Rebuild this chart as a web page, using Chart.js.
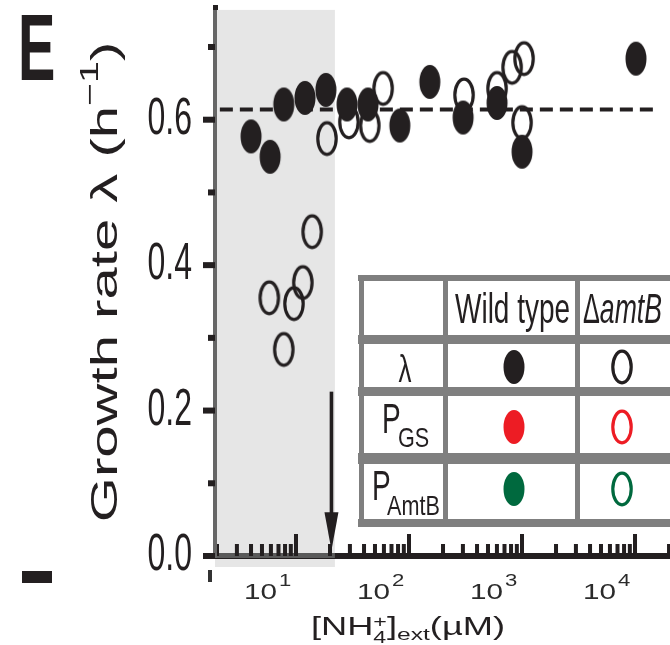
<!DOCTYPE html>
<html><head><meta charset="utf-8">
<script src="https://cdn.jsdelivr.net/npm/chart.js@4.4.1/dist/chart.umd.min.js"></script>
<style>html,body{margin:0;padding:0;background:#fff;overflow:hidden;}#wrap{width:670px;height:645px;position:relative;}</style>
</head><body><div id="wrap"><canvas id="c"></canvas></div>
<script>
// ---------- data ----------
const nh4WildType    = [4.0, 5.9, 7.8, 12.0, 18.4, 28.3, 43.4, 83, 153, 301, 601, 1000, 10200];
const lambdaWildType = [0.577, 0.549, 0.621, 0.630, 0.641, 0.621, 0.621, 0.592, 0.652, 0.603, 0.623, 0.556, 0.684];
const nh4AmtB        = [5.8, 7.8, 9.6, 11.5, 13.9, 18.8, 29.4, 45, 59, 307, 601, 817, 1042, 1000];
const lambdaAmtB     = [0.355, 0.284, 0.347, 0.376, 0.446, 0.574, 0.597, 0.592, 0.643, 0.634, 0.643, 0.672, 0.684, 0.596];
const meanLambda = 0.614;
const meanLineRange = [2.12, 16000];
const shadedRange = [1.92, 22.1];      // low-NH4 shaded band (µM)
const shadedTop = 0.751;
const arrowX = 20.6;                   // µM
const arrowRange = [0.226, 0.008];
const xMajorExponents = [1, 2, 3, 4];
const xMinorMultipliers = [2, 3, 4, 5, 6, 7, 8, 9];
const yTickLabels = ['0.0', '0.2', '0.4', '0.6'];
const yMajorTicks = [0, 0.2, 0.4, 0.6];
const yMinorTicks = [0.1, 0.3, 0.5, 0.7];
const xRange = [1.92, 20400];
const yRange = [0, 0.755];

const FONT = '"Liberation Sans", Arial, Helvetica, sans-serif';
const INK = '#231f20';

function makeMarker(fill, stroke) {
  const c = document.createElement('canvas'); c.width = 24; c.height = 38;
  const g = c.getContext('2d');
  g.beginPath();
  if (fill) { g.ellipse(12, 19, 10.5, 17, 0, 0, 2 * Math.PI); g.fillStyle = fill; g.fill(); }
  else { g.ellipse(12, 19, 9.2, 15.8, 0, 0, 2 * Math.PI); g.lineWidth = 3.2; g.strokeStyle = stroke; g.stroke(); }
  return c;
}
const mFilledBlack = makeMarker(INK), mOpenBlack = makeMarker(null, INK);
const mFilledRed = makeMarker('#ed1c24'), mOpenRed = makeMarker(null, '#ed1c24');
const mFilledGreen = makeMarker('#00693e'), mOpenGreen = makeMarker(null, '#00693e');

function txt(ctx, s, x, y, size, o = {}) {
  ctx.save();
  ctx.translate(x, y);
  ctx.scale(o.sx || 1, o.sy || 1);
  ctx.font = `${o.style || 'normal'} ${o.weight || 'normal'} ${size}px ${FONT}`;
  ctx.textAlign = o.align || 'left';
  ctx.textBaseline = 'alphabetic';
  ctx.fillStyle = o.color || INK;
  ctx.fillText(s, 0, 0);
  ctx.restore();
}
function w(ctx, s, size, o = {}) {
  ctx.save(); ctx.font = `${o.style || 'normal'} ${o.weight || 'normal'} ${size}px ${FONT}`;
  const m = ctx.measureText(s).width; ctx.restore(); return m;
}

const decor = {
  id: 'decor',
  beforeDatasetsDraw(chart) {
    const { ctx, chartArea: a } = chart;
    const xs = chart.scales.x, ys = chart.scales.y;
    ctx.save();
    // shaded band
    const sx0 = xs.getPixelForValue(shadedRange[0]), sx1 = xs.getPixelForValue(shadedRange[1]);
    const sy0 = ys.getPixelForValue(shadedTop), sy1 = ys.getPixelForValue(0) + 11;
    ctx.fillStyle = '#e6e6e6';
    ctx.fillRect(sx0, sy0, sx1 - sx0, sy1 - sy0);
    // x axis line
    const y0 = ys.getPixelForValue(0);
    ctx.fillStyle = INK; ctx.fillRect(a.left, y0 - 3, a.right - a.left, 6);
    ctx.fillStyle = '#5a5a5a'; ctx.fillRect(a.left, y0 - 3, sx1 - a.left, 5);
    // x ticks (pointing inward)
    ctx.fillStyle = INK;
    for (let e = 0; e <= 4; e++) {
      const major = Math.pow(10, e);
      if (major >= xRange[0] && major <= xRange[1]) {
        const px = xs.getPixelForValue(major); ctx.fillRect(px - 2, y0 - 22, 4, 22);
      }
      xMinorMultipliers.forEach(m => {
        const v = m * major;
        if (v >= xRange[0] && v <= xRange[1]) {
          const px = xs.getPixelForValue(v); ctx.fillRect(px - 2, y0 - 12, 4, 12);
        }
      });
    }
    ctx.fillStyle = '#333'; ctx.fillRect(a.left - 7, y0 + 14, 4, 12);
    // y axis line
    ctx.fillStyle = '#666';
    ctx.fillRect(a.left - 2, a.top, 4, y0 - a.top + 2);
    ctx.fillStyle = INK;
    ctx.fillRect(a.left - 2, a.top - 2, 5, 5);
    yMajorTicks.forEach(v => { const py = ys.getPixelForValue(v); ctx.fillRect(a.left - 12, py - 3, 12, 6); });
    yMinorTicks.forEach(v => { const py = ys.getPixelForValue(v); ctx.fillRect(a.left - 7, py - 3, 7, 6); });
    // y tick labels
    yMajorTicks.forEach((v, i) => {
      const py = ys.getPixelForValue(v);
      txt(ctx, yTickLabels[i], 192, py + 14, 32, { align: 'right', sy: 1.6 });
    });
    // x tick labels 10^n
    xMajorExponents.forEach(e => {
      const px = xs.getPixelForValue(Math.pow(10, e));
      const left = px - 52;
      txt(ctx, '10', left, 599, 22, { sx: 1.35, color: '#2b2b2b' });
      const bw = w(ctx, '10', 22) * 1.35;
      txt(ctx, String(e), left + bw + 2, 586, 17, { sx: 1.3, color: '#2b2b2b' });
    });
    ctx.restore();
  },
  afterDatasetsDraw(chart) {
    const { ctx } = chart;
    const xs = chart.scales.x, ys = chart.scales.y;
    ctx.save();
    // arrow
    const ax = xs.getPixelForValue(arrowX);
    const ay0 = ys.getPixelForValue(arrowRange[0]), ay1 = ys.getPixelForValue(arrowRange[1]);
    ctx.fillStyle = INK;
    ctx.fillRect(ax - 1.8, ay0, 3.6, ay1 - ay0 - 30);
    ctx.beginPath(); ctx.moveTo(ax - 7, ay1 - 38); ctx.lineTo(ax + 7, ay1 - 38); ctx.lineTo(ax, ay1); ctx.closePath(); ctx.fill();

    // legend table
    ctx.fillStyle = '#fff'; ctx.fillRect(360, 277, 320, 248);
    ctx.fillStyle = '#7f7f7f';
    ctx.fillRect(358, 275, 322, 6);
    ctx.fillRect(358, 335, 322, 9);
    ctx.fillRect(358, 387, 322, 9);
    ctx.fillRect(358, 453, 322, 11);
    ctx.fillRect(358, 519, 322, 8);
    ctx.fillRect(359, 275, 5, 252);
    ctx.fillRect(443, 275, 5, 252);
    ctx.fillRect(575, 275, 5, 252);
    txt(ctx, 'Wild type', 455, 323, 28, { sy: 1.55 });
    txt(ctx, 'Δ', 583, 323, 28, { sy: 1.55, sx: 0.9 });
    txt(ctx, 'amtB', 583 + w(ctx, 'Δ', 28) * 0.9, 323, 28, { sy: 1.55, sx: 0.95, style: 'italic' });
    txt(ctx, 'λ', 405, 382, 26, { sy: 1.5, align: 'center' });
    txt(ctx, 'P', 382, 433, 28, { sy: 1.55 });
    txt(ctx, 'GS', 398, 447, 18, { sy: 1.55, sx: 1.2 });
    txt(ctx, 'P', 372, 500, 28, { sy: 1.55 });
    txt(ctx, 'AmtB', 387, 515, 18, { sy: 1.55, sx: 1.2 });
    const put = (m, x, y) => ctx.drawImage(m, x - m.width / 2, y - m.height / 2);
    put(mFilledBlack, 514, 367); put(mOpenBlack, 622, 367);
    put(mFilledRed, 514, 427); put(mOpenRed, 622, 427);
    put(mFilledGreen, 514, 489); put(mOpenGreen, 622, 489);

    // panel letter and stray mark
    txt(ctx, 'E', 18, 80, 56, { weight: 'bold', sy: 1.7 });
    ctx.fillStyle = INK; ctx.fillRect(22, 571, 30, 12);

    // y-axis title (rotated)
    ctx.save();
    ctx.translate(117, 282); ctx.rotate(-Math.PI / 2); ctx.scale(1.57, 1);
    ctx.fillStyle = INK; ctx.textBaseline = 'alphabetic'; ctx.textAlign = 'left';
    const tA = 'Growth rate λ (h', tB = '−1', tC = ')';
    ctx.font = `37px ${FONT}`; const wa = ctx.measureText(tA).width, wc = ctx.measureText(tC).width;
    ctx.font = `25px ${FONT}`; const wb = ctx.measureText(tB).width;
    const st = -(wa + wb + wc) / 2;
    ctx.font = `37px ${FONT}`; ctx.fillText(tA, st, 0);
    ctx.font = `25px ${FONT}`; ctx.fillText(tB, st + wa, -19);
    ctx.font = `37px ${FONT}`; ctx.fillText(tC, st + wa + wb, 0);
    ctx.restore();

    // x-axis title [NH4+]ext(µM)
    const S = 1.45;
    const parts = [
      { s: '[NH', size: 25, dy: 0 },
      { stack: true },
      { s: ']', size: 25, dy: 0 },
      { s: 'ext', size: 17, dy: 5 },
      { s: '(µM)', size: 25, dy: 0 }
    ];
    let total = 0;
    parts.forEach(p => {
      p.w = p.stack ? Math.max(w(ctx, '+', 16), w(ctx, '4', 16)) * S : w(ctx, p.s, p.size) * S;
      total += p.w;
    });
    let cx = 408 - total / 2;
    parts.forEach(p => {
      if (p.stack) {
        txt(ctx, '+', cx, 627, 16, { sx: S });
        txt(ctx, '4', cx, 643, 16, { sx: S });
      } else {
        txt(ctx, p.s, cx, 635 + p.dy, p.size, { sx: S });
      }
      cx += p.w;
    });
    ctx.restore();
  }
};

new Chart(document.getElementById('c'), {
  type: 'scatter',
  data: {
    datasets: [
      { label: 'Wild type', data: nh4WildType.map((x, i) => ({ x, y: lambdaWildType[i] })),
        pointStyle: mFilledBlack, pointRadius: 10, clip: false },
      { label: 'ΔamtB', data: nh4AmtB.map((x, i) => ({ x, y: lambdaAmtB[i] })),
        pointStyle: mOpenBlack, pointRadius: 10, clip: false },
      { label: 'mean', type: 'line', data: meanLineRange.map(x => ({ x, y: meanLambda })),
        borderColor: INK, borderWidth: 4, borderDash: [13, 7], pointRadius: 0, fill: false }
    ]
  },
  options: {
    responsive: true, maintainAspectRatio: false, animation: false,
    layout: { autoPadding: false, padding: { left: 215, top: 7, right: 0, bottom: 89 } },
    scales: {
      x: { type: 'logarithmic', min: xRange[0], max: xRange[1], display: false },
      y: { type: 'linear', min: yRange[0], max: yRange[1], display: false }
    },
    plugins: { legend: { display: false }, tooltip: { enabled: false } },
    events: []
  },
  plugins: [decor]
});
</script>
</body></html>
